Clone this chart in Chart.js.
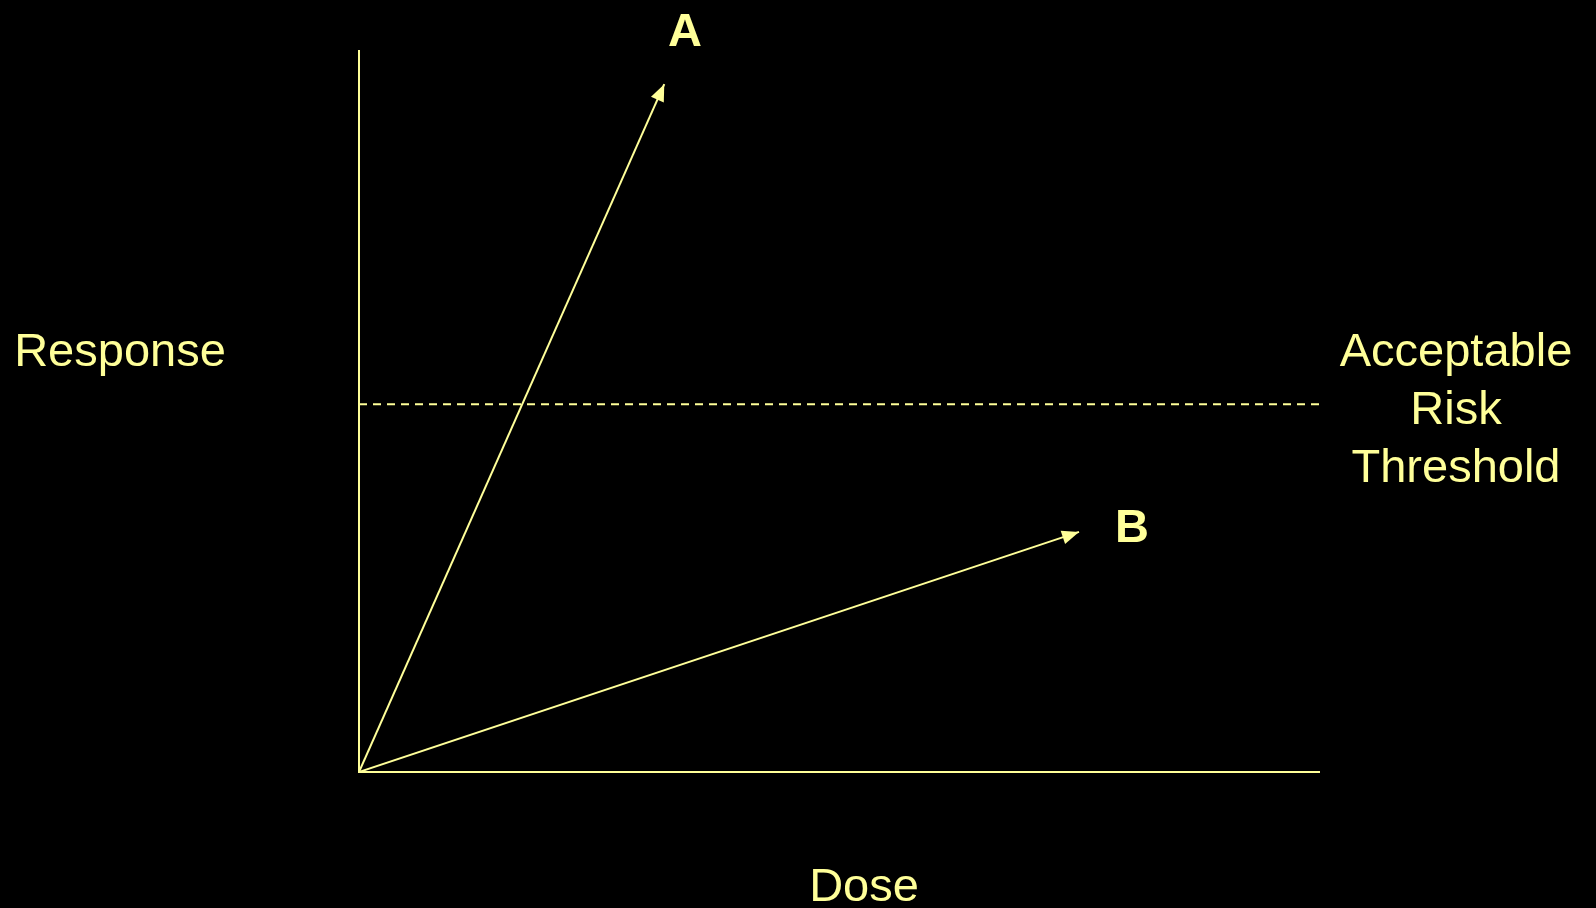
<!DOCTYPE html>
<html>
<head>
<meta charset="utf-8">
<title>Dose response</title>
<script src="https://cdn.jsdelivr.net/npm/chart.js@4/dist/chart.umd.min.js"></script>
<style>
  html, body { margin: 0; padding: 0; background: #000; }
  canvas { display: block; }
</style>
</head>
<body>
<canvas id="grafica" width="1596" height="908"></canvas>
<script>
// ==== Datos ====
const doseA = [0, 31.8];
const respA = [0, 95.4];
const doseB = [0, 75.0];
const respB = [0, 33.3];
const thresholdDose = [0, 100];
const thresholdResp = [51, 51];
const doseRange = [0, 100];
const respRange = [0, 100];

const AMARILLO = '#ffff99';
const FUENTE = '"Liberation Sans", Arial, sans-serif';

function puntos(xs, ys) {
  return xs.map((x, i) => ({ x: x, y: ys[i] }));
}

// ==== Plugins ====
const flechas = {
  id: 'flechas',
  afterDatasetsDraw(chart) {
    const ctx = chart.ctx;
    chart.data.datasets.forEach((ds, i) => {
      if (!ds.flecha) return;
      const pts = chart.getDatasetMeta(i).data;
      const a = pts[pts.length - 2], b = pts[pts.length - 1];
      const ang = Math.atan2(b.y - a.y, b.x - a.x);
      const len = 17, half = 7;
      ctx.save();
      ctx.fillStyle = ds.borderColor;
      ctx.translate(b.x, b.y);
      ctx.rotate(ang);
      ctx.beginPath();
      ctx.moveTo(0, 0);
      ctx.lineTo(-len, -half);
      ctx.lineTo(-len, half);
      ctx.closePath();
      ctx.fill();
      ctx.restore();
    });
  }
};

const textos = {
  id: 'textos',
  afterDraw(chart, args, opts) {
    const ctx = chart.ctx;
    ctx.save();
    ctx.fillStyle = AMARILLO;
    ctx.textBaseline = 'alphabetic';
    ctx.textAlign = 'center';
    for (const t of opts.items) {
      ctx.font = (t.bold ? 'bold ' : '') + '47px ' + FUENTE;
      ctx.fillText(t.text, t.x, t.y);
    }
    ctx.restore();
  }
};

// ==== Gráfico ====
new Chart(document.getElementById('grafica'), {
  type: 'scatter',
  data: {
    datasets: [
      { data: puntos(doseA, respA), flecha: true },
      { data: puntos(doseB, respB), flecha: true },
      { data: puntos(thresholdDose, thresholdResp), borderDash: [8, 6] }
    ].map(d => Object.assign({
      showLine: true,
      borderColor: AMARILLO,
      borderWidth: 2,
      pointRadius: 0,
      pointHoverRadius: 0,
      fill: false
    }, d))
  },
  options: {
    responsive: false,
    animation: false,
    events: [],
    layout: { padding: { left: 359, top: 51, right: 277, bottom: 136 } },
    scales: {
      x: {
        type: 'linear', min: doseRange[0], max: doseRange[1],
        grid: { display: false, drawTicks: false },
        ticks: { display: false },
        border: { display: true, color: AMARILLO, width: 2 }
      },
      y: {
        type: 'linear', min: respRange[0], max: respRange[1],
        grid: { display: false, drawTicks: false },
        ticks: { display: false },
        border: { display: true, color: AMARILLO, width: 2 }
      }
    },
    plugins: {
      legend: { display: false },
      tooltip: { enabled: false },
      textos: {
        items: [
          { text: 'A', x: 685, y: 46, bold: true },
          { text: 'B', x: 1132, y: 542, bold: true },
          { text: 'Response', x: 120, y: 366 },
          { text: 'Dose', x: 864, y: 901 },
          { text: 'Acceptable', x: 1456, y: 366 },
          { text: 'Risk', x: 1456, y: 424 },
          { text: 'Threshold', x: 1456, y: 482 }
        ]
      }
    }
  },
  plugins: [flechas, textos]
});
</script>
</body>
</html>
